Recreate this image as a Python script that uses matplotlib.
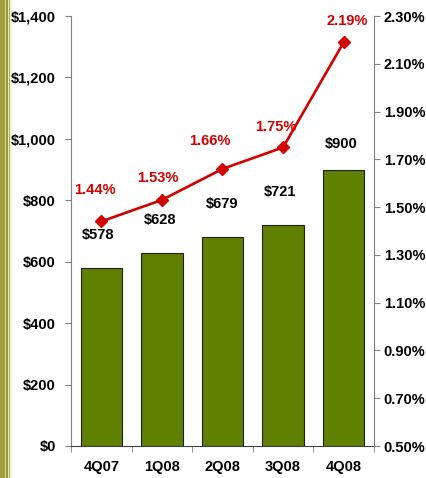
import matplotlib
matplotlib.use("Agg")
import matplotlib.pyplot as plt
from matplotlib.patches import Rectangle
import numpy as np

quarters = ["4Q07", "1Q08", "2Q08", "3Q08", "4Q08"]
amounts = [578, 628, 679, 721, 900]          # $ millions (bars, left axis)
rates = [1.44, 1.53, 1.66, 1.75, 2.19]        # percent (line, right axis)

left_ticks = [0, 200, 400, 600, 800, 1000, 1200, 1400]
right_ticks = [0.50, 0.70, 0.90, 1.10, 1.30, 1.50, 1.70, 1.90, 2.10, 2.30]

# label offsets in pixels (dx, dy)
amount_offsets = [(-3, 33), (-2, 33), (0, 33), (-3, 33), (-3, 26)]
rate_offsets = [(-6, 31), (-4, 22), (-13, 28), (-7, 20), (3, 21)]

plt.rcParams["font.family"] = ["Liberation Sans", "DejaVu Sans"]
plt.rcParams["font.weight"] = "bold"
plt.rcParams["font.size"] = 10.5

W, H = 427, 478
fig = plt.figure(figsize=(W / 100, H / 100), dpi=100)
fig.patch.set_facecolor("white")

# decorative striped border on the left edge
stripes = [(0, 5, "#a3a03c"), (5, 6, "#d6d49a"), (6, 8, "#9c9a36"),
           (8, 9, "#ecebc4"), (9, 10, "#b0ad50"), (10, 12, "#f4f3dc")]
for x0, x1, c in stripes:
    fig.add_artist(Rectangle((x0 / W, 0), (x1 - x0) / W, 1,
                             transform=fig.transFigure, color=c, lw=0, zorder=0))

ax = fig.add_axes([71 / W, 1 - 446 / H, (374 - 71) / W, (446 - 16) / H])
ax.set_facecolor("none")
x = np.arange(len(quarters))
bars = ax.bar(x, amounts, width=0.68, color="#5f8000", edgecolor="#1e1e1e",
              linewidth=0.8, zorder=2)
ax.set_xlim(-0.5, len(quarters) - 0.5)
ax.set_ylim(0, 1400)
ax.set_yticks(left_ticks)
ax.set_yticklabels([f"${v:,}" for v in left_ticks])
ax.set_xticks(x)
ax.set_xticklabels(quarters)
ax.set_xticks(np.arange(-0.5, len(quarters)), minor=True)
ax.tick_params(axis="x", which="major", length=0, pad=10)
ax.tick_params(axis="x", which="minor", length=4, color="#808080", direction="out")
ax.tick_params(axis="y", length=4, color="#808080", direction="out", pad=7)
for s in ["top", "right"]:
    ax.spines[s].set_visible(False)
ax.spines["left"].set_color("#808080")
ax.spines["bottom"].set_color("#404040")

for xi, v, (dx, dy) in zip(x, amounts, amount_offsets):
    ax.annotate(f"${v}", (xi, v), xytext=(dx, dy), textcoords="offset pixels",
                ha="center", va="center", fontweight="bold", color="black")

ax2 = ax.twinx()
ax2.set_ylim(0.5, 2.3)
ax2.set_yticks(right_ticks)
ax2.set_yticklabels([f"{v:.2f}%" for v in right_ticks])
ax2.tick_params(axis="y", length=4, color="#808080", direction="out", pad=3)
for s in ["top", "left", "bottom"]:
    ax2.spines[s].set_visible(False)
ax2.spines["right"].set_color("#808080")
ax2.plot(x, rates, color="#d40000", linewidth=1.9, marker="D", markersize=6.5,
         markeredgecolor="#d40000", zorder=3)
for xi, v, (dx, dy) in zip(x, rates, rate_offsets):
    ax2.annotate(f"{v:.2f}%", (xi, v), xytext=(dx, dy), textcoords="offset pixels",
                 ha="center", va="center", fontweight="bold", color="#d40000")

fig.savefig("out.png", dpi=100)
